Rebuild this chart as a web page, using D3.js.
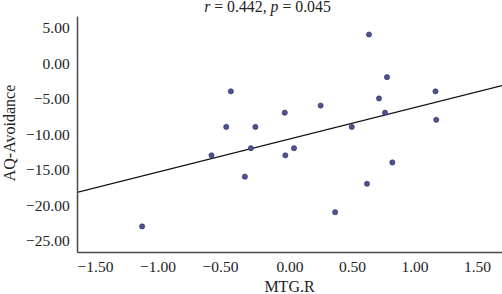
<!DOCTYPE html>
<html>
<head>
<meta charset="utf-8">
<script src="https://cdn.jsdelivr.net/npm/d3@7"></script>
<style>
  html, body { margin: 0; padding: 0; background: #fff; }
  svg { display: block; }
  text { font-family: "Liberation Serif", "DejaVu Serif", serif; fill: #222; }
</style>
</head>
<body>
<svg id="chart" width="502" height="294"></svg>
<script>
// MTG.R (x) and AQ-Avoidance (y) values
const mtgR = [-1.179, -0.624, -0.506, -0.469, -0.357, -0.309, -0.273, -0.038, -0.033, 0.036,
              0.249, 0.365, 0.498, 0.620, 0.636, 0.716, 0.764, 0.780, 0.823, 1.168, 1.174];
const aqAvoidance = [-23, -13, -9, -4, -16, -12, -9, -7, -13, -12,
                     -6, -21, -9, -17, 4, -5, -7, -2, -14, -4, -8];
const xTicks = [-1.5, -1.0, -0.5, 0.0, 0.5, 1.0, 1.5];
const yTicks = [5, 0, -5, -10, -15, -20, -25];
const xDomain = [-1.7, 1.7];
const yDomain = [-26.6, 6.6];
const titleR = "0.442";
const titleP = "0.045";
const xLabel = "MTG.R";
const yLabel = "AQ-Avoidance";

(function () {
const svg = d3.select("#chart");
const mLeft = 77, mRight = 502, mTop = 16, mBottom = 252;

const x = d3.scaleLinear().domain(xDomain).range([mLeft, mRight]);
const y = d3.scaleLinear().domain(yDomain).range([mBottom, mTop]);

const fmt = d3.format(".2f");
const fmtTick = v => fmt(v).replace("-", "\u2212");

// regression line (least squares fit)
const n = mtgR.length;
const mx = d3.mean(mtgR), my = d3.mean(aqAvoidance);
let sxy = 0, sxx = 0;
for (let i = 0; i < n; i++) { sxy += (mtgR[i]-mx)*(aqAvoidance[i]-my); sxx += (mtgR[i]-mx)**2; }
const slope = sxy / sxx, intercept = my - slope * mx;

svg.append("defs").append("clipPath").attr("id", "clip")
  .append("rect").attr("x", mLeft).attr("y", mTop).attr("width", mRight-mLeft).attr("height", mBottom-mTop);

svg.append("line")
  .attr("clip-path", "url(#clip)")
  .attr("x1", x(xDomain[0])).attr("y1", y(intercept + slope*xDomain[0]))
  .attr("x2", x(xDomain[1])).attr("y2", y(intercept + slope*xDomain[1]))
  .attr("stroke", "#111").attr("stroke-width", 1.2);

// axes
const xAxis = svg.append("g").attr("transform", `translate(0,${mBottom})`)
  .call(d3.axisBottom(x).tickValues(xTicks).tickSize(0).tickPadding(8.5).tickFormat(fmtTick));
const yAxis = svg.append("g").attr("transform", `translate(${mLeft},0)`)
  .call(d3.axisLeft(y).tickValues(yTicks).tickSize(0).tickPadding(7.3).tickFormat(fmtTick));

[xAxis, yAxis].forEach(g => {
  g.select(".domain").attr("stroke", "#4a4a4a").attr("stroke-width", 1.5);
  g.selectAll("text").attr("font-family", "Liberation Serif, DejaVu Serif, serif")
    .attr("font-size", 15.5).attr("fill", "#222");
});
xAxis.selectAll(".tick text").attr("dx", d => d < 0 ? -7 : 0);
yAxis.selectAll(".tick text").attr("dy", "0.34em");

// points
svg.append("g").selectAll("circle")
  .data(mtgR.map((v, i) => [v, aqAvoidance[i]]))
  .join("circle")
  .attr("cx", d => x(d[0])).attr("cy", d => y(d[1]))
  .attr("r", 2.6)
  .attr("fill", "#4e5290").attr("stroke", "#2c3068").attr("stroke-width", 0.6);

// title
const title = svg.append("text").attr("x", 267.5).attr("y", 12)
  .attr("text-anchor", "middle").attr("font-size", 15.8);
title.append("tspan").attr("font-style", "italic").text("r");
title.append("tspan").text(" = " + titleR + ", ");
title.append("tspan").attr("font-style", "italic").text("p");
title.append("tspan").text(" = " + titleP);

// axis labels
svg.append("text").attr("x", (mLeft+mRight)/2).attr("y", 292)
  .attr("text-anchor", "middle").attr("font-size", 16).text(xLabel);
svg.append("text").attr("transform", "translate(15,133) rotate(-90)")
  .attr("text-anchor", "middle").attr("font-size", 16).text(yLabel);
})();
</script>
</body>
</html>
